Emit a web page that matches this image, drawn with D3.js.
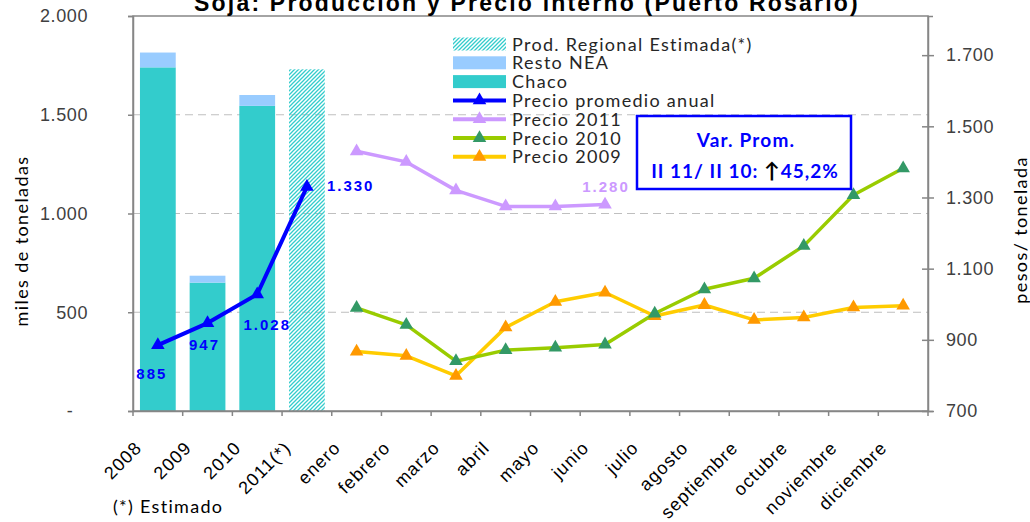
<!DOCTYPE html>
<html>
<head>
<meta charset="utf-8">
<script src="https://cdn.jsdelivr.net/npm/d3@7"></script>
<style>
  body { margin: 0; background: #fff; }
  svg { display: block; font-family: Lato, 'Open Sans', sans-serif; }
</style>
</head>
<body>
<svg id="chart" width="1030" height="522"></svg>
<script>
// categories along the x axis: 4 years + 12 months
const years = ['2008', '2009', '2010', '2011(*)'];
const months = ['enero', 'febrero', 'marzo', 'abril', 'mayo', 'junio', 'julio',
  'agosto', 'septiembre', 'octubre', 'noviembre', 'diciembre'];
const categories = years.concat(months);

// production (miles de toneladas)
const chaco = [1740, 650, 1545];
const restoNEA = [75, 35, 55];
const prodEstimada = [1730];

// prices (pesos / tonelada)
const precioAnual = [885, 947, 1028, 1330];
const precio2011 = [1430, 1400, 1320, 1275, 1275, 1280];
const precio2010 = [990, 942, 840, 871, 878, 887, 974, 1042, 1073, 1164, 1307, 1382];
const precio2009 = [867, 855, 799, 935, 1007, 1033, 967, 998, 956, 963, 991, 996];

const leftTicks = [0, 500, 1000, 1500, 2000];
const rightTicks = [700, 900, 1100, 1300, 1500, 1700];

const svg = d3.select('#chart');
const margin = { top: 16, right: 102, bottom: 111, left: 133 };
const width = 1030, height = 522;

const x = d3.scaleBand()
  .domain(categories)
  .range([margin.left, width - margin.right])
  .padding(0);
const yL = d3.scaleLinear().domain([0, 2000]).range([height - margin.bottom, margin.top]);
const yR = d3.scaleLinear().domain([700, 1810]).range([height - margin.bottom, margin.top]);
const fmt = d3.formatLocale({ decimal: ',', thousands: '.', grouping: [3], currency: ['$', ''] }).format(',.0f');
const cx = (c) => x(c) + x.bandwidth() / 2;

// hatch pattern for the estimated bar
const defs = svg.append('defs');
defs.append('pattern')
  .attr('id', 'hatch')
  .attr('patternUnits', 'userSpaceOnUse')
  .attr('width', 4).attr('height', 4)
  .append('path')
  .attr('d', 'M-1,1 l2,-2 M0,4 l4,-4 M3,5 l2,-2')
  .attr('stroke', '#33cccc')
  .attr('stroke-width', 1.3);

// gridlines
svg.append('g')
  .selectAll('line')
  .data(leftTicks.filter((d) => d > 0 && d < 2000))
  .join('line')
  .attr('x1', margin.left).attr('x2', width - margin.right)
  .attr('y1', (d) => yL(d)).attr('y2', (d) => yL(d))
  .attr('stroke', '#bfbfbf')
  .attr('stroke-dasharray', '8,5');

// bars
const barW = x.bandwidth() * 0.72;
const bars = svg.append('g');
bars.selectAll('.chaco')
  .data(chaco)
  .join('rect')
  .attr('x', (d, i) => cx(years[i]) - barW / 2)
  .attr('width', barW)
  .attr('y', (d) => yL(d))
  .attr('height', (d) => yL(0) - yL(d))
  .attr('fill', '#33cccc');
bars.selectAll('.resto')
  .data(restoNEA)
  .join('rect')
  .attr('x', (d, i) => cx(years[i]) - barW / 2)
  .attr('width', barW)
  .attr('y', (d, i) => yL(chaco[i] + d))
  .attr('height', (d, i) => yL(chaco[i]) - yL(chaco[i] + d))
  .attr('fill', '#99ccff');
bars.selectAll('.est')
  .data(prodEstimada)
  .join('rect')
  .attr('x', () => cx(years[3]) - barW / 2)
  .attr('width', barW)
  .attr('y', (d) => yL(d))
  .attr('height', (d) => yL(0) - yL(d))
  .attr('fill', 'url(#hatch)');

// frame
svg.append('rect')
  .attr('x', margin.left).attr('y', margin.top)
  .attr('width', width - margin.left - margin.right)
  .attr('height', height - margin.top - margin.bottom)
  .attr('fill', 'none')
  .attr('stroke', '#868686')
  .attr('stroke-width', 1.5);

// axes
const axisColor = '#868686';
const labelColor = '#404040';
const leftAxis = svg.append('g')
  .attr('transform', `translate(${margin.left},0)`)
  .call(d3.axisLeft(yL).tickValues(leftTicks).tickSize(5).tickPadding(40)
    .tickFormat((d) => (d === 0 ? '-' : fmt(d))));

const rightAxis = svg.append('g')
  .attr('transform', `translate(${width - margin.right},0)`)
  .call(d3.axisRight(yR).tickValues(rightTicks).tickSize(5).tickPadding(13).tickFormat(fmt));
rightAxis.selectAll('.tick line').attr('x1', -6).attr('x2', 6);

const xAxis = svg.append('g')
  .attr('transform', `translate(0,${height - margin.bottom})`)
  .call(d3.axisBottom(x).tickValues([]).tickSizeOuter(0));
xAxis.selectAll('.tick-edge')
  .data(categories.concat(['end']))
  .join('line')
  .attr('x1', (d, i) => margin.left + i * x.bandwidth())
  .attr('x2', (d, i) => margin.left + i * x.bandwidth())
  .attr('y1', 0).attr('y2', 5)
  .attr('stroke', axisColor);
xAxis.selectAll('.xlab')
  .data(categories)
  .join('text')
  .attr('transform', (d) => `translate(${cx(d) - 15},${38}) rotate(-45)`)
  .attr('text-anchor', 'end')
  .attr('fill', '#000')
  .style('font-size', '18px')
  .style('letter-spacing', '1.1px')
  .text((d) => d);

[leftAxis, rightAxis, xAxis].forEach((g) => {
  g.selectAll('.domain, line').attr('stroke', axisColor).attr('stroke-width', 1.5);
  g.selectAll('.tick text').attr('fill', labelColor)
    .style('font-size', '18px').style('letter-spacing', '0.6px');
});
leftAxis.selectAll('.tick text').filter((d) => d === 0)
  .attr('text-anchor', 'middle').attr('x', -63);

// axis titles
svg.append('text')
  .attr('transform', `translate(28,${241}) rotate(-90)`)
  .attr('text-anchor', 'middle')
  .style('font-size', '18px')
  .style('letter-spacing', '1.4px')
  .text('miles de toneladas');
svg.append('text')
  .attr('transform', `translate(1027,${230}) rotate(-90)`)
  .attr('text-anchor', 'middle')
  .style('font-size', '18px')
  .style('letter-spacing', '1.4px')
  .text('pesos/ tonelada');

// title (cut at the top edge, as in the original)
svg.append('text')
  .attr('x', 527).attr('y', 11)
  .attr('text-anchor', 'middle')
  .style('font-family', "'Liberation Sans', Arial, sans-serif")
  .style('font-size', '23px')
  .style('font-weight', 'bold')
  .style('letter-spacing', '2.2px')
  .text('Soja: Producción y Precio interno (Puerto Rosario)');

svg.append('text')
  .attr('x', 113).attr('y', 513)
  .style('font-size', '18px')
  .style('letter-spacing', '1.3px')
  .text('(*) Estimado');

// price lines
const series = [
  { name: 'Precio 2009', cats: months, values: precio2009, line: '#ffcc00', marker: '#ff9900' },
  { name: 'Precio 2010', cats: months, values: precio2010, line: '#99cc00', marker: '#339966' },
  { name: 'Precio 2011', cats: months.slice(0, precio2011.length), values: precio2011, line: '#cc99ff', marker: '#cc99ff' },
  { name: 'Precio promedio anual', cats: years, values: precioAnual, line: '#0000ff', marker: '#0000ff' },
];
const tri = d3.symbol().type(d3.symbolTriangle).size(80);
series.forEach((s) => {
  const pts = s.values.map((v, i) => [cx(s.cats[i]), yR(v)]);
  svg.append('path')
    .attr('d', d3.line()(pts))
    .attr('fill', 'none')
    .attr('stroke', s.line)
    .attr('stroke-width', s.line === '#0000ff' ? 4 : 3.5)
    .attr('stroke-linejoin', 'round');
  svg.append('g')
    .selectAll('path')
    .data(pts)
    .join('path')
    .attr('d', tri)
    .attr('transform', (d) => `translate(${d[0]},${d[1]})`)
    .attr('fill', s.marker);
});

// data labels
const lblStyle = (sel, color) => sel
  .attr('fill', color)
  .style('font-family', "'Liberation Sans', Arial, sans-serif")
  .style('font-size', '15px')
  .style('font-weight', 'bold')
  .style('letter-spacing', '2px');
const annualOffsets = [[-6, 34], [-3, 27], [10, 36], [20, 4]];
svg.append('g')
  .selectAll('text')
  .data(precioAnual)
  .join('text')
  .attr('x', (d, i) => cx(years[i]) + annualOffsets[i][0])
  .attr('y', (d, i) => yR(d) + annualOffsets[i][1])
  .attr('text-anchor', (d, i) => (i === 3 ? 'start' : 'middle'))
  .text((d) => fmt(d))
  .call(lblStyle, '#0000ff');
svg.append('text')
  .attr('x', cx(months[precio2011.length - 1]) + 1)
  .attr('y', yR(precio2011[precio2011.length - 1]) - 13)
  .attr('text-anchor', 'middle')
  .text(fmt(precio2011[precio2011.length - 1]))
  .call(lblStyle, '#cc99ff');

// legend
const legendItems = [
  { name: 'Prod. Regional Estimada(*)', type: 'rect', fill: 'url(#hatch)' },
  { name: 'Resto NEA', type: 'rect', fill: '#99ccff' },
  { name: 'Chaco', type: 'rect', fill: '#33cccc' },
].concat(series.slice().reverse().map((s) => ({ name: s.name, type: 'line', line: s.line, marker: s.marker })));
const legend = svg.append('g').attr('transform', 'translate(453,44)');
const li = legend.selectAll('g')
  .data(legendItems)
  .join('g')
  .attr('transform', (d, i) => `translate(0,${i * 18.8})`);
li.filter((d) => d.type === 'rect')
  .append('rect')
  .attr('x', 0).attr('y', -6.5)
  .attr('width', 53).attr('height', 13)
  .attr('fill', (d) => d.fill);
li.filter((d) => d.type === 'line')
  .append('line')
  .attr('x1', 0).attr('x2', 53)
  .attr('stroke', (d) => d.line)
  .attr('stroke-width', 4);
li.filter((d) => d.type === 'line')
  .append('path')
  .attr('d', tri)
  .attr('transform', 'translate(26.5,0)')
  .attr('fill', (d) => d.marker);
li.append('text')
  .attr('x', 59).attr('y', 6.5)
  .attr('fill', '#262626')
  .style('font-size', '18px')
  .style('letter-spacing', '1.3px')
  .text((d) => d.name);

// variation box
const box = svg.append('g');
box.append('rect')
  .attr('x', 637).attr('y', 116)
  .attr('width', 214).attr('height', 73)
  .attr('fill', '#fff')
  .attr('stroke', '#0000ff')
  .attr('stroke-width', 2.5);
box.append('text')
  .attr('x', 746).attr('y', 147)
  .attr('text-anchor', 'middle')
  .attr('fill', '#0000ff')
  .style('font-size', '19px').style('font-weight', 'bold')
  .style('letter-spacing', '1.2px')
  .text('Var. Prom.');
const l2 = box.append('text')
  .attr('x', 745).attr('y', 178)
  .attr('text-anchor', 'middle')
  .attr('fill', '#0000ff')
  .style('font-size', '19px').style('font-weight', 'bold')
  .style('letter-spacing', '1px');
l2.append('tspan').text('II 11/ II 10: ');
l2.append('tspan').attr('fill', '#000').style('font-size', '21px').text('↑');
l2.append('tspan').text('45,2%');
</script>
</body>
</html>
